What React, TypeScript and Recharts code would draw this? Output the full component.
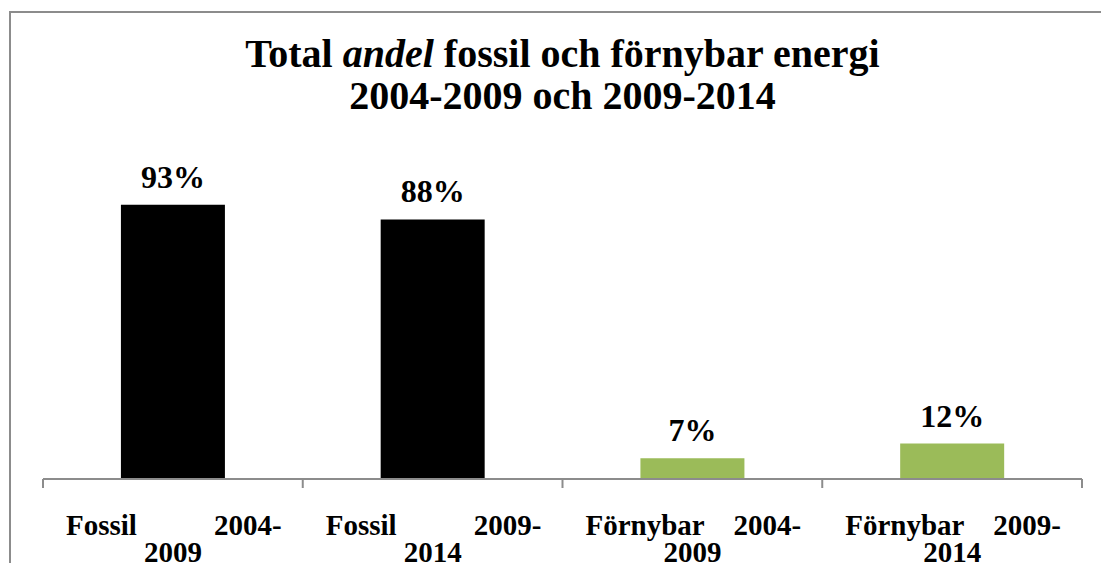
import { BarChart, Bar, XAxis, YAxis, LabelList, Cell } from "recharts";

const categories = [
  "Fossil 2004-2009",
  "Fossil 2009-2014",
  "Förnybar 2004-2009",
  "Förnybar 2009-2014",
];
const shares = [93, 88, 7, 12];
const barColors = ["#000000", "#000000", "#9bbb59", "#9bbb59"];

const data = categories.map((cat, i) => ({ cat, share: shares[i] }));

const FONT = "'Liberation Serif', 'Times New Roman', serif";
const CHART_W = 1090;
const CHART_H = 550;
const MARGIN = { top: 171, right: 19, bottom: 4, left: 32 };
const XAXIS_H = 80;
const AXIS_Y = CHART_H - MARGIN.bottom - XAXIS_H;
const STEP = (CHART_W - MARGIN.left - MARGIN.right) / categories.length;

function CategoryTick(props: any) {
  const { x, payload, index } = props;
  const [word, period] = String(payload.value).split(" ");
  const [from, to] = period.split("-");
  const left = x - STEP / 2;
  const right = x + STEP / 2;
  const last = index === categories.length - 1;
  return (
    <g>
      <line x1={left} x2={left} y1={AXIS_Y} y2={AXIS_Y + 9} stroke="#8c8c8c" strokeWidth={2} />
      {last && (
        <line x1={right} x2={right} y1={AXIS_Y} y2={AXIS_Y + 9} stroke="#8c8c8c" strokeWidth={2} />
      )}
      <text
        x={left + 23}
        y={AXIS_Y + 56}
        textAnchor="start"
        fontFamily={FONT}
        fontWeight="bold"
        fontSize={29}
        fill="#000"
      >
        {word}
      </text>
      <text
        x={right - 21}
        y={AXIS_Y + 56}
        textAnchor="end"
        fontFamily={FONT}
        fontWeight="bold"
        fontSize={29}
        fill="#000"
      >
        {from}-
      </text>
      <text
        x={x}
        y={AXIS_Y + 83}
        textAnchor="middle"
        fontFamily={FONT}
        fontWeight="bold"
        fontSize={29}
        fill="#000"
      >
        {to}
      </text>
    </g>
  );
}

function ShareLabel(props: any) {
  const { x, y, width, value } = props;
  return (
    <text
      x={x + width / 2}
      y={y - 17}
      textAnchor="middle"
      fontFamily={FONT}
      fontWeight="bold"
      fontSize={32}
      fill="#000"
    >
      {value}%
    </text>
  );
}

export default function App() {
  return (
    <div
      style={{
        position: "absolute",
        left: 9,
        top: 11,
        width: 1092,
        height: 552,
        boxSizing: "border-box",
        borderTop: "2px solid #8c8c8c",
        borderLeft: "2px solid #8c8c8c",
        background: "#fff",
        overflow: "hidden",
      }}
    >
      <div
        style={{
          position: "absolute",
          left: MARGIN.left,
          width: CHART_W - MARGIN.left - MARGIN.right,
          top: 20,
          textAlign: "center",
          fontFamily: FONT,
          fontWeight: "bold",
          fontSize: 40,
          lineHeight: "42px",
          color: "#000",
        }}
      >
        Total <i>andel</i> fossil och förnybar energi
        <br />
        2004-2009 och 2009-2014
      </div>
      <BarChart
        width={CHART_W}
        height={CHART_H}
        data={data}
        margin={MARGIN}
        barCategoryGap="30%"
      >
        <YAxis hide domain={[0, 100]} />
        <XAxis
          dataKey="cat"
          height={XAXIS_H}
          stroke="#8c8c8c"
          strokeWidth={2}
          tickLine={false}
          interval={0}
          tick={<CategoryTick />}
        />
        <Bar dataKey="share" isAnimationActive={false}>
          {data.map((d, i) => (
            <Cell key={d.cat} fill={barColors[i]} />
          ))}
          <LabelList dataKey="share" content={<ShareLabel />} />
        </Bar>
      </BarChart>
    </div>
  );
}
